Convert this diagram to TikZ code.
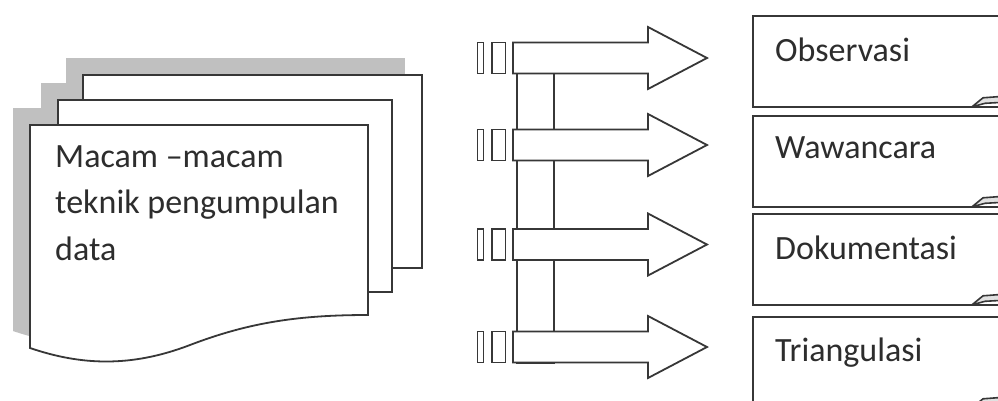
\documentclass[tikz,border=0pt]{standalone}
\usepackage{fontspec}
\setmainfont{Carlito}
\usetikzlibrary{calc}
\definecolor{ink}{RGB}{55,55,55}
\definecolor{shade}{RGB}{192,192,192}
\definecolor{txt}{RGB}{45,45,45}
\definecolor{foldfill}{RGB}{225,225,225}
\tikzset{
  outline/.style={draw=ink, line width=1.8pt, line join=miter},
  sheet/.style={outline, fill=white},
  sheetshadow/.style={fill=shade},
  bartrack/.style={outline, fill=white},
  methodbox/.style={outline, fill=white, minimum width=260pt, minimum height=91pt, inner sep=0pt},
  boxlabel/.style={font=\fontsize{34}{40}\selectfont, text=txt, inner sep=0pt},
  doclabel/.style={font=\fontsize{34}{46.5}\selectfont, text=txt, inner sep=0pt, align=left},
  fold/.style={outline, line width=1.6pt, fill=foldfill, line join=round},
  blockarrow/.pic={
    \draw[outline, fill=white] (0,-15.5) -- (135,-15.5) -- (135,-31) -- (194,0)
      -- (135,31) -- (135,15.5) -- (0,15.5) -- cycle;
    \draw[outline, line width=1.5pt, fill=white] (-35.5,-15.5) rectangle (-29.5,15.5);
    \draw[outline, line width=1.5pt, fill=white] (-21,-15.5) rectangle (-7.5,15.5);
  }
}
\begin{document}
\begin{tikzpicture}[x=1pt, y=-1pt]
  \useasboundingbox (0,0) rectangle (998,400);
  \clip (0,0) rectangle (998,400);

  % shadows of the stacked sheets
  \begin{scope}[shift={(-17,-17)}]
    \fill[sheetshadow] (83,75) rectangle (422,268);
    \fill[sheetshadow] (58,100) rectangle (392,292);
    \fill[sheetshadow] (30,125) -- (368,125) -- (368,315)
      .. controls (300,315) and (250,322) .. (190,345)
      .. controls (130,368) and (80,365) .. (30,348) -- cycle;
  \end{scope}

  % the stack: back, middle, front sheet
  \path[sheet] (83,75) rectangle (422,268);
  \path[sheet] (58,100) rectangle (392,292);
  \path[sheet] (30,125) -- (368,125) -- (368,315)
    .. controls (300,315) and (250,322) .. (190,345)
    .. controls (130,368) and (80,365) .. (30,348) -- cycle;
  % (base of a multi-line node is the baseline of its last line)
  \node[doclabel, anchor=base west] (doc) at (55,260)
    {Macam –macam\\teknik pengumpulan\\data};

  % vertical track behind the arrows
  \path[bartrack] (517,43) rectangle (554,363);

  % block arrows
  \pic (a1) at (513,58) {blockarrow};
  \pic (a2) at (513,145) {blockarrow};
  \pic (a3) at (513,244.5) {blockarrow};
  \pic (a4) at (513,347) {blockarrow};

  % method boxes
  \node[methodbox, anchor=north west] (obs) at (752,15) {};
  \node[methodbox, anchor=north west] (waw) at (752,115) {};
  \node[methodbox, anchor=north west] (dok) at (752,213) {};
  \node[methodbox, anchor=north west] (tri) at (752,316) {};

  \node[boxlabel, anchor=base west] (obs-t) at (775,61) {Observasi};
  \node[boxlabel, anchor=base west] (waw-t) at (775,158) {Wawancara};
  \node[boxlabel, anchor=base west] (dok-t) at (775,259) {Dokumentasi};
  \node[boxlabel, anchor=base west] (tri-t) at (775,361) {Triangulasi};

  % folded corners
  \foreach \b in {obs,waw,dok,tri}{
    \path[fold] ($(\b.south west)+(220,-1)$) -- ++(11,-9) -- ++(20,-1.5)
      -- ++(0,6) -- ++(-18,1) -- cycle;
  }
\end{tikzpicture}
\end{document}
